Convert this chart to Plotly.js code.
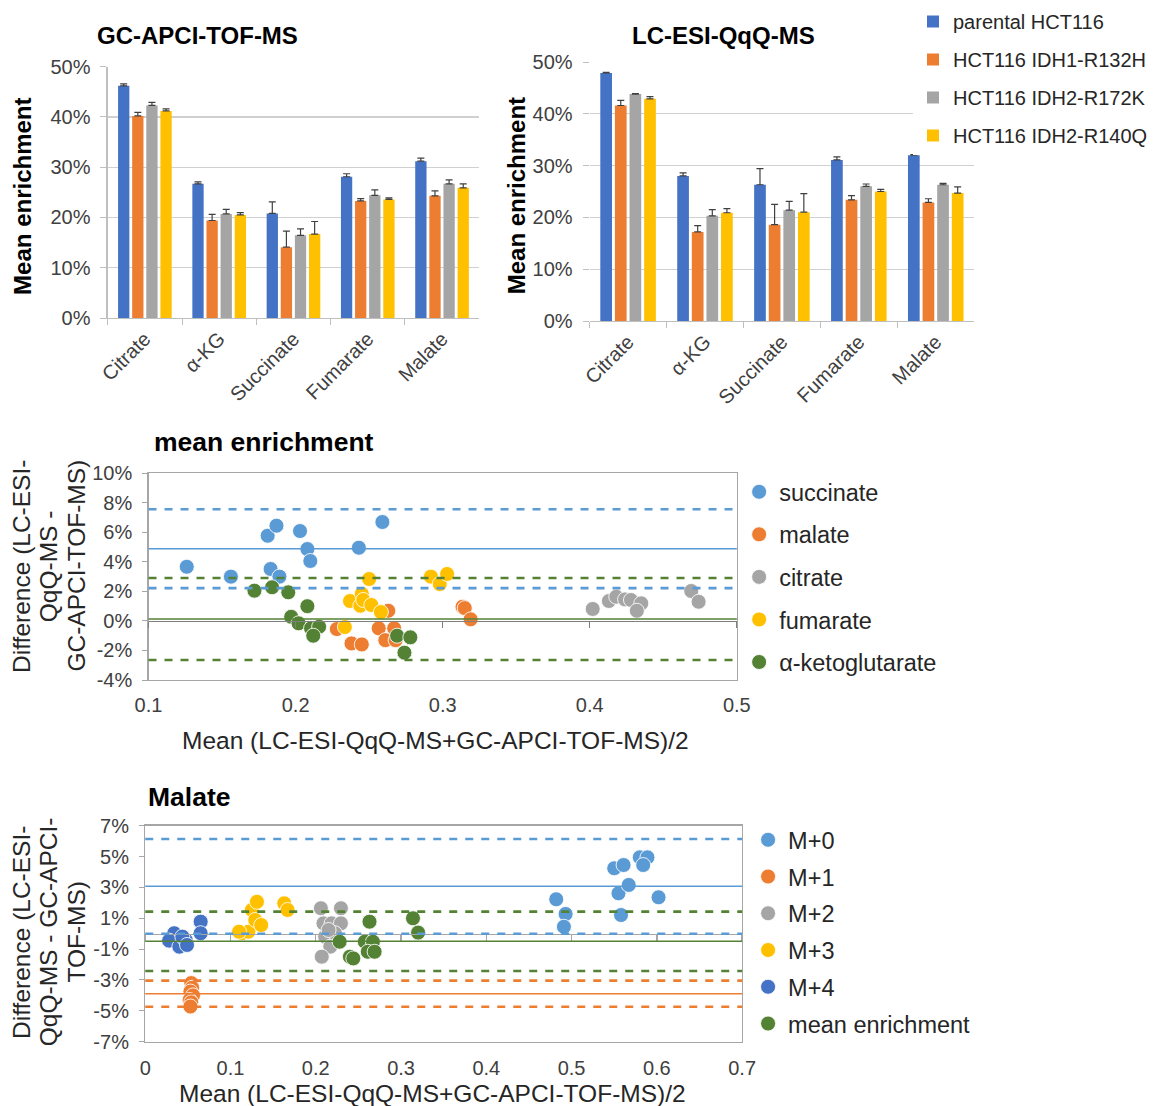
<!DOCTYPE html>
<html>
<head>
<meta charset="utf-8">
<script src="https://cdn.plot.ly/plotly-3.0.1.min.js"></script>
<style>
  html, body { margin: 0; padding: 0; background: #fff; }
  #chart { width: 1153px; height: 1106px; }
</style>
</head>
<body>
<div id="chart"></div>
<script>
// ---------- Mean enrichment by metabolite (bar charts) ----------
const metabolites = ['Citrate', 'α-KG', 'Succinate', 'Fumarate', 'Malate'];
const cellLines = ['parental HCT116', 'HCT116 IDH1-R132H', 'HCT116 IDH2-R172K', 'HCT116 IDH2-R140Q'];
const barColors = ['#4472C4', '#ED7D31', '#A5A5A5', '#FFC000'];

// GC-APCI-TOF-MS, mean enrichment (%) and upper error
const gcParental = [46.2, 26.7, 20.8, 28.1, 31.2];
const gcParentalErr = [0.4, 0.4, 2.3, 0.6, 0.6];
const gcR132H = [40.2, 19.4, 14.1, 23.3, 24.3];
const gcR132HErr = [0.7, 1.2, 3.2, 0.45, 1.0];
const gcR172K = [42.3, 20.7, 16.45, 24.4, 26.7];
const gcR172KErr = [0.6, 0.9, 1.3, 1.1, 0.8];
const gcR140Q = [41.2, 20.5, 16.7, 23.6, 25.9];
const gcR140QErr = [0.4, 0.45, 2.5, 0.3, 0.8];

// LC-ESI-QqQ-MS, mean enrichment (%) and upper error
const lcParental = [47.9, 28.0, 26.3, 31.1, 32.0];
const lcParentalErr = [0.1, 0.6, 3.1, 0.6, 0.1];
const lcR132H = [41.6, 17.2, 18.6, 23.4, 22.9];
const lcR132HErr = [1.0, 1.2, 3.9, 0.8, 0.7];
const lcR172K = [43.8, 20.3, 21.4, 26.0, 26.3];
const lcR172KErr = [0.1, 1.2, 1.7, 0.45, 0.25];
const lcR140Q = [42.9, 20.9, 21.0, 25.0, 24.7];
const lcR140QErr = [0.4, 0.8, 3.6, 0.4, 1.2];

const barTicks = [0, 10, 20, 30, 40, 50];

// ---------- Bland-Altman: mean enrichment per metabolite ----------
const succX = [0.126, 0.156, 0.181, 0.187, 0.183, 0.189, 0.203, 0.208, 0.210, 0.243, 0.259];
const succY = [3.67, 3.0, 5.77, 6.45, 3.52, 3.0, 6.09, 4.87, 4.06, 4.96, 6.7];
const malX = [0.228, 0.238, 0.245, 0.2565, 0.261, 0.263, 0.267, 0.268, 0.3135, 0.315, 0.319];
const malY = [-0.55, -1.52, -1.59, -0.5, -1.3, 0.69, -0.5, -1.3, 0.96, 0.87, 0.11];
const citX = [0.402, 0.413, 0.418, 0.424, 0.428, 0.435, 0.432, 0.469, 0.474];
const citY = [0.81, 1.35, 1.64, 1.46, 1.42, 1.19, 0.69, 2.03, 1.3];
const fumX = [0.2335, 0.237, 0.245, 0.244, 0.246, 0.2515, 0.250, 0.258, 0.292, 0.298, 0.303];
const fumY = [-0.41, 1.35, 1.84, 1.03, 1.42, 1.08, 2.84, 0.6, 3.0, 2.5, 3.18];
const akgX = [0.172, 0.184, 0.195, 0.208, 0.197, 0.202, 0.2105, 0.216, 0.212, 0.269, 0.278, 0.274];
const akgY = [2.05, 2.28, 1.94, 1.0, 0.28, -0.16, -0.5, -0.39, -1.0, -1.0, -1.11, -2.15];

// limits of agreement: [lower, mean, upper] (%)
const succLimits = [2.22, 4.89, 7.56];
const akgLimits = [-2.65, 0.13, 2.91];

const meanXTicks = [0.1, 0.2, 0.3, 0.4, 0.5];
const meanYTicks = [-4, -2, 0, 2, 4, 6, 8, 10];

// ---------- Bland-Altman: malate isotopologues ----------
const m0X = [0.482, 0.493, 0.491, 0.550, 0.561, 0.555, 0.567, 0.558, 0.580, 0.589, 0.584, 0.602];
const m0Y = [2.23, 1.28, 0.45, 4.24, 4.45, 2.62, 3.16, 1.21, 4.95, 4.95, 4.45, 2.36];
const m1X = [0.054, 0.055, 0.053, 0.056, 0.052, 0.054, 0.053];
const m1Y = [-3.2, -3.5, -3.75, -4.0, -4.3, -4.45, -4.72];
const m2X = [0.206, 0.2295, 0.209, 0.2185, 0.2295, 0.211, 0.217, 0.207, 0.2225, 0.215];
const m2Y = [1.65, 1.65, 0.67, 0.67, 0.67, -0.19, -0.84, -1.49, 0.03, 0.24];
const m3X = [0.1135, 0.121, 0.110, 0.125, 0.131, 0.129, 0.136, 0.163, 0.167];
const m3Y = [0.03, 0.13, 0.13, 1.54, 2.07, 0.89, 0.56, 1.97, 1.54];
const m4X = [0.034, 0.028, 0.040, 0.0475, 0.0435, 0.065, 0.065, 0.049];
const m4Y = [0.03, -0.45, -0.84, -0.41, -0.19, 0.78, 0.03, -0.73];
const meX = [0.228, 0.240, 0.244, 0.263, 0.2575, 0.267, 0.261, 0.269, 0.314, 0.320];
const meY = [-0.52, -1.49, -1.6, 0.78, -0.52, -0.52, -1.17, -1.17, 1.0, 0.07];

const m0Limits = [0.0, 3.07, 6.14];
const m1Limits = [-4.73, -3.89, -3.04];
const meLimits = [-2.42, -0.49, 1.43];

const malXTicks = [0, 0.1, 0.2, 0.3, 0.4, 0.5, 0.6, 0.7];
const malYTicks = [-7, -5, -3, -1, 1, 3, 5, 7];

// ---------- page geometry helpers ----------
const W = 1153, H = 1106;
const px = p => p / W;
const py = p => 1 - p / H;
const FONT = 'Liberation Sans, Arial, sans-serif';
const TXT = '#404040';

const pct = v => v + '%';

const traces = [];

// bars
const gcSeries = [[gcParental, gcParentalErr], [gcR132H, gcR132HErr], [gcR172K, gcR172KErr], [gcR140Q, gcR140QErr]];
const lcSeries = [[lcParental, lcParentalErr], [lcR132H, lcR132HErr], [lcR172K, lcR172KErr], [lcR140Q, lcR140QErr]];

function barTrace(series, i, xa, ya, legendOn) {
  return {
    type: 'bar', x: metabolites, y: series[0], name: cellLines[i],
    xaxis: xa, yaxis: ya,
    marker: { color: barColors[i] },
    error_y: {
      type: 'data', symmetric: false, array: series[1],
      arrayminus: series[1].map(() => 0),
      color: '#404040', thickness: 1.2, width: 3.5
    },
    legendgroup: 'cl' + i, showlegend: legendOn, legend: 'legend',
    hoverinfo: 'skip'
  };
}
gcSeries.forEach((s, i) => traces.push(barTrace(s, i, 'x', 'y', true)));
lcSeries.forEach((s, i) => traces.push(barTrace(s, i, 'x2', 'y2', false)));

function dots(x, y, name, color, xa, ya, legend) {
  return {
    type: 'scatter', mode: 'markers', x: x, y: y, name: name,
    xaxis: xa, yaxis: ya, legend: legend, legendgroup: legend + name,
    marker: { color: color, size: 15, line: { color: 'rgba(255,255,255,0.85)', width: 1 } },
    hoverinfo: 'skip'
  };
}

traces.push(dots(succX, succY, 'succinate', '#5B9BD5', 'x3', 'y3', 'legend2'));
traces.push(dots(malX, malY, 'malate', '#ED7D31', 'x3', 'y3', 'legend2'));
traces.push(dots(citX, citY, 'citrate', '#A5A5A5', 'x3', 'y3', 'legend2'));
traces.push(dots(fumX, fumY, 'fumarate', '#FFC000', 'x3', 'y3', 'legend2'));
traces.push(dots(akgX, akgY, 'α-ketoglutarate', '#548235', 'x3', 'y3', 'legend2'));

traces.push(dots(m0X, m0Y, 'M+0', '#5B9BD5', 'x4', 'y4', 'legend3'));
traces.push(dots(m1X, m1Y, 'M+1', '#ED7D31', 'x4', 'y4', 'legend3'));
traces.push(dots(m2X, m2Y, 'M+2', '#A5A5A5', 'x4', 'y4', 'legend3'));
traces.push(dots(m3X, m3Y, 'M+3', '#FFC000', 'x4', 'y4', 'legend3'));
traces.push(dots(m4X, m4Y, 'M+4', '#4472C4', 'x4', 'y4', 'legend3'));
traces.push(dots(meX, meY, 'mean enrichment', '#548235', 'x4', 'y4', 'legend3'));

// empty traces so the zero-crossing axes get their subplots
traces.push({ type: 'scatter', x: [null], y: [null], xaxis: 'x5', yaxis: 'y3', showlegend: false, hoverinfo: 'skip' });
traces.push({ type: 'scatter', x: [null], y: [null], xaxis: 'x6', yaxis: 'y4', showlegend: false, hoverinfo: 'skip' });

// limit-of-agreement lines
const shapes = [];
function limitLines(limits, color, yref, xdom) {
  limits.forEach((v, k) => {
    const dashed = k !== 1;
    shapes.push({
      type: 'line', xref: xdom, x0: 0, x1: 1, yref: yref, y0: v, y1: v,
      line: { color: color, width: dashed ? 2.6 : 1.5, dash: dashed ? '8px,8px' : 'solid' },
      layer: 'above'
    });
  });
}
limitLines(succLimits, '#5B9BD5', 'y3', 'x3 domain');
limitLines(akgLimits, '#548235', 'y3', 'x3 domain');
limitLines(m0Limits, '#5B9BD5', 'y4', 'x4 domain');
limitLines(meLimits, '#548235', 'y4', 'x4 domain');
limitLines(m1Limits, '#ED7D31', 'y4', 'x4 domain');

// axis domains (paper)
const bar1X = [px(108.3), px(481.7)], bar1Y = [py(318), py(66.7)];
const bar2X = [px(592.7), px(979.3)], bar2Y = [py(321), py(62)];
const midX = [px(149.3), px(740.7)], midY = [py(680), py(473.3)];
const botX = [px(146), px(746)], botY = [py(1041.7), py(825.7)];

const midRange = [meanYTicks[0], meanYTicks[meanYTicks.length - 1]];
const botRange = [malYTicks[0], malYTicks[malYTicks.length - 1]];
const zeroPos = (dom, r) => dom[0] + (0 - r[0]) / (r[1] - r[0]) * (dom[1] - dom[0]);

const tickFont = { family: FONT, size: 20, color: TXT };

function barY(domain, anchor, showLine) {
  return {
    domain: domain, anchor: anchor, range: [0, 50],
    tickvals: barTicks, ticktext: barTicks.map(pct),
    showgrid: true, gridcolor: '#d0d0d0', gridwidth: 1.3, zeroline: false,
    showline: showLine, linecolor: '#bfbfbf', linewidth: 1.3,
    ticks: 'outside', ticklen: 6, tickcolor: '#bfbfbf',
    tickfont: tickFont, ticklabelstandoff: 6, fixedrange: true
  };
}
function barX(domain, anchor) {
  return {
    domain: domain, anchor: anchor, type: 'category',
    showline: true, linecolor: '#bfbfbf', linewidth: 1.3,
    ticks: 'outside', tickson: 'boundaries', ticklen: 6, tickcolor: '#bfbfbf',
    tickangle: -45, tickfont: { family: FONT, size: 20, color: TXT },
    showgrid: false, fixedrange: true
  };
}

const layout = {
  width: W, height: H, autosize: false,
  margin: { l: 0, r: 0, t: 0, b: 0, pad: 0 },
  paper_bgcolor: '#fff', plot_bgcolor: 'rgba(0,0,0,0)',
  font: { family: FONT, color: TXT },
  barmode: 'group', bargap: 0.24, bargroupgap: 0.2,
  showlegend: true,

  xaxis: barX(bar1X, 'y'),
  yaxis: barY(bar1Y, 'x', true),
  xaxis2: barX(bar2X, 'y2'),
  yaxis2: barY(bar2Y, 'x2', false),

  xaxis3: {
    domain: midX, anchor: 'y3', range: [meanXTicks[0], meanXTicks[meanXTicks.length - 1]],
    tickvals: meanXTicks, ticktext: meanXTicks.map(String),
    showline: true, mirror: true, linecolor: '#a6a6a6', linewidth: 1.3,
    ticks: '', showgrid: false, zeroline: false, tickfont: tickFont, ticklabelstandoff: 7, fixedrange: true
  },
  yaxis3: {
    domain: midY, anchor: 'x3', range: midRange,
    tickvals: meanYTicks, ticktext: meanYTicks.map(pct),
    showline: true, mirror: true, linecolor: '#a6a6a6', linewidth: 1.3,
    ticks: 'outside', ticklen: 5, tickcolor: '#a6a6a6',
    showgrid: false, zeroline: false, tickfont: tickFont, ticklabelstandoff: 6, fixedrange: true
  },
  xaxis5: {
    overlaying: 'x3', anchor: 'free', position: zeroPos(midY, midRange),
    range: [meanXTicks[0], meanXTicks[meanXTicks.length - 1]], tickvals: meanXTicks,
    showticklabels: false, showline: true, linecolor: '#7f7f7f', linewidth: 1.5,
    ticks: 'outside', ticklen: 6, tickcolor: '#7f7f7f', tickwidth: 1.3,
    showgrid: false, zeroline: false, fixedrange: true
  },

  xaxis4: {
    domain: botX, anchor: 'y4', range: [malXTicks[0], malXTicks[malXTicks.length - 1]],
    tickvals: malXTicks, ticktext: malXTicks.map(String),
    showline: true, mirror: true, linecolor: '#a6a6a6', linewidth: 1.3,
    ticks: '', showgrid: false, zeroline: false, tickfont: tickFont, ticklabelstandoff: 8, fixedrange: true
  },
  yaxis4: {
    domain: botY, anchor: 'x4', range: botRange,
    tickvals: malYTicks, ticktext: malYTicks.map(pct),
    showline: true, mirror: true, linecolor: '#a6a6a6', linewidth: 1.3,
    ticks: 'outside', ticklen: 5, tickcolor: '#a6a6a6',
    showgrid: false, zeroline: false, tickfont: tickFont, ticklabelstandoff: 6, fixedrange: true
  },
  xaxis6: {
    overlaying: 'x4', anchor: 'free', position: zeroPos(botY, botRange),
    range: [malXTicks[0], malXTicks[malXTicks.length - 1]], tickvals: malXTicks,
    showticklabels: false, showline: true, linecolor: '#a6a6a6', linewidth: 1.5,
    ticks: 'outside', ticklen: 6, tickcolor: '#a6a6a6', tickwidth: 1.3,
    showgrid: false, zeroline: false, fixedrange: true
  },

  legend: {
    x: px(918), xanchor: 'left', y: py(2), yanchor: 'top',
    bgcolor: '#fff', borderwidth: 0, tracegroupgap: 9,
    font: { family: FONT, size: 20, color: '#262626' }, traceorder: 'grouped'
  },
  legend2: {
    x: px(743), xanchor: 'left', y: py(470), yanchor: 'top',
    bgcolor: 'rgba(0,0,0,0)', borderwidth: 0, tracegroupgap: 9,
    font: { family: FONT, size: 23.5, color: '#262626' }, traceorder: 'grouped'
  },
  legend3: {
    x: px(752), xanchor: 'left', y: py(818), yanchor: 'top',
    bgcolor: 'rgba(0,0,0,0)', borderwidth: 0, tracegroupgap: 3.2,
    font: { family: FONT, size: 23.5, color: '#262626' }, traceorder: 'grouped'
  },

  shapes: shapes,
  annotations: []
};

function label(text, x, y, size, opts) {
  layout.annotations.push(Object.assign({
    text: text, xref: 'paper', yref: 'paper', x: px(x), y: py(y),
    xanchor: 'center', yanchor: 'middle', showarrow: false,
    font: { family: FONT, size: size, color: '#000' }
  }, opts || {}));
}
const axisTitleFont = { family: FONT, size: 24.5, color: '#262626' };

label('<b>GC-APCI-TOF-MS</b>', 199, 36, 24);
label('<b>LC-ESI-QqQ-MS</b>', 727, 36, 24);
label('<b>Mean enrichment</b>', 22, 196, 24, { textangle: -90 });
label('<b>Mean enrichment</b>', 519, 196, 24, { textangle: -90 });

// middle panel
label('<b>mean enrichment</b>', 265, 442, 26.5);
label('Difference (LC-ESI-', 21, 566, 24, { textangle: -90, font: axisTitleFont });
label('QqQ-MS -', 48.5, 566, 24, { textangle: -90, font: axisTitleFont });
label('GC-APCI-TOF-MS)', 76, 566, 24, { textangle: -90, font: axisTitleFont });
label('Mean (LC-ESI-QqQ-MS+GC-APCI-TOF-MS)/2', 438, 740, 24, { font: axisTitleFont });

// bottom panel
label('<b>Malate</b>', 190, 797, 26.5);
label('Difference (LC-ESI-', 21, 932, 24, { textangle: -90, font: axisTitleFont });
label('QqQ-MS - GC-APCI-', 48.5, 932, 24, { textangle: -90, font: axisTitleFont });
label('TOF-MS)', 76, 932, 24, { textangle: -90, font: axisTitleFont });
label('Mean (LC-ESI-QqQ-MS+GC-APCI-TOF-MS)/2', 435, 1093, 24, { font: axisTitleFont });

Plotly.newPlot('chart', traces, layout, { displayModeBar: false, staticPlot: true });
</script>
</body>
</html>
